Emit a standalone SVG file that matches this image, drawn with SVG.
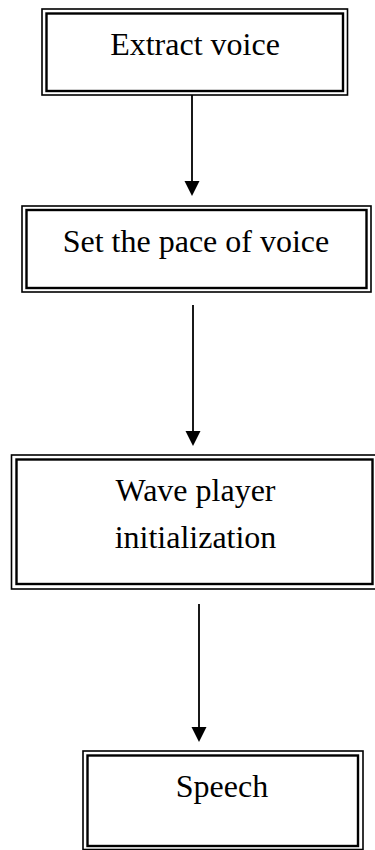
<svg xmlns="http://www.w3.org/2000/svg" width="375" height="850" viewBox="0 0 375 850">
<style>
.o{fill:none;stroke:#000;stroke-width:1.6}
.i{fill:none;stroke:#000;stroke-width:2.4}
.t{font-family:"Liberation Serif","Times New Roman",serif;font-size:32px;fill:#000;text-anchor:middle}
.c{stroke:#000;stroke-width:1.8;fill:none}
.h{fill:#000}
</style>
<rect width="375" height="850" fill="#fff"/>
<g id="connectors">
<line class="c" x1="192" y1="95" x2="192" y2="184"/><polygon class="h" points="184.5,181 199.5,181 192,196"/>
<line class="c" x1="193" y1="305" x2="193" y2="434"/><polygon class="h" points="185.5,431 200.5,431 193,446"/>
<line class="c" x1="199" y1="604" x2="199" y2="730"/><polygon class="h" points="191.5,727 206.5,727 199,742"/>
</g>
<g id="n1">
<rect class="o" x="42" y="9" width="305.5" height="86"/>
<rect class="i" x="46.5" y="13.5" width="296.5" height="77.5"/>
<text class="t" x="195" y="55">Extract voice</text>
</g>
<g id="n2">
<rect class="o" x="22" y="206" width="349" height="86"/>
<rect class="i" x="26.5" y="210" width="340" height="78"/>
<text class="t" x="196" y="252">Set the pace of voice</text>
</g>
<g id="n3">
<rect class="o" x="11.5" y="455" width="366" height="134"/>
<rect class="i" x="16.5" y="459.5" width="356" height="124.5"/>
<text class="t" x="195.5" y="501">Wave player</text>
<text class="t" x="195.5" y="548">initialization</text>
</g>
<g id="n4">
<rect class="o" x="83" y="751" width="280" height="98.5"/>
<rect class="i" x="87.5" y="755.5" width="270.5" height="90.5"/>
<text class="t" x="222" y="797">Speech</text>
</g>
</svg>
